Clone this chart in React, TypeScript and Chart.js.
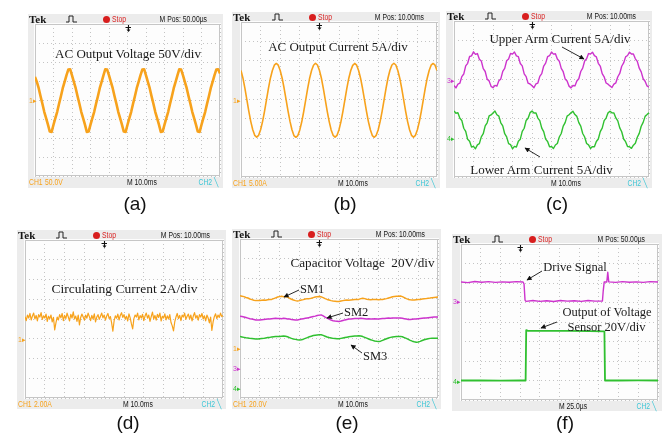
import React, { useEffect, useRef } from 'react';
import { Chart, registerables } from 'chart.js';

Chart.register(...registerables);

// ---------------- colours ----------------
const ORANGE = '#f7a21c';
const MAGENTA = '#cd34cd';
const GREEN = '#30c030';
const CYAN = '#3cc6d6';
const RED = '#d81e1e';
const GRID = '#c4c4c4';
const FRAME = '#c6c6c6';
const SANS = '"Liberation Sans", Arial, sans-serif';
const SERIF = '"Liberation Serif", "Times New Roman", serif';

// ---------------- data (vertical divisions, sampled every SAMPLE_STEP horizontal divisions) ----------------
const SAMPLE_STEP = 0.1;
const NOISE_STEP = 0.0625;

// (a) AC output voltage, multilevel waveform
const A_VOLTAGE = [
  1.22, 0.95, 0.62, 0.2, -0.2, -0.62, -0.95, -1.3, -1.66, -1.68,
  -1.3, -0.95, -0.62, -0.2, 0.2, 0.62, 0.95, 1.3, 1.6, 1.62,
  1.3, 0.95, 0.62, 0.2, -0.2, -0.62, -0.95, -1.3, -1.68, -1.66,
  -1.3, -0.95, -0.62, -0.2, 0.2, 0.62, 0.95, 1.3, 1.62, 1.6,
  1.3, 0.95, 0.62, 0.2, -0.2, -0.62, -0.95, -1.3, -1.66, -1.68,
  -1.3, -0.95, -0.62, -0.2, 0.2, 0.62, 0.95, 1.3, 1.6, 1.62,
  1.3, 0.95, 0.62, 0.2, -0.2, -0.62, -0.95, -1.3, -1.68, -1.66,
  -1.3, -0.95, -0.62, -0.2, 0.2, 0.62, 0.95, 1.3, 1.62, 1.6,
  1.3, 0.95, 0.62, 0.2, -0.2, -0.62, -0.95, -1.3, -1.66, -1.68,
  -1.3, -0.95, -0.62, -0.2, 0.2, 0.62, 0.95, 1.3, 1.6, 1.62,
  1.4,
];

// (b) AC output current
const B_CURRENT = [
  1.5, 1.1, 0.57, -0.02, -0.61, -1.14, -1.56, -1.85, -1.94, -1.85,
  -1.56, -1.14, -0.61, -0.02, 0.57, 1.1, 1.5, 1.77, 1.86, 1.77,
  1.5, 1.1, 0.58, -0.01, -0.6, -1.13, -1.56, -1.86, -1.95, -1.86,
  -1.57, -1.15, -0.62, -0.03, 0.56, 1.09, 1.5, 1.77, 1.87, 1.78,
  1.51, 1.11, 0.57, -0.02, -0.61, -1.14, -1.57, -1.85, -1.94, -1.85,
  -1.56, -1.14, -0.61, -0.02, 0.57, 1.1, 1.5, 1.76, 1.86, 1.77,
  1.5, 1.1, 0.58, -0.01, -0.6, -1.14, -1.56, -1.86, -1.95, -1.85,
  -1.56, -1.13, -0.61, -0.02, 0.58, 1.11, 1.51, 1.78, 1.87, 1.78,
  1.5, 1.1, 0.57, -0.02, -0.61, -1.14, -1.56, -1.85, -1.94, -1.85,
  -1.56, -1.14, -0.61, -0.02, 0.57, 1.1, 1.5, 1.77, 1.86, 1.77,
  1.5,
];

// (c) upper / lower arm currents
const C_UPPER = [
  0.69, 0.57, 0.76, 0.81, 1.15, 1.28, 1.7, 1.83, 2.18, 2.21,
  2.42, 2.29, 2.33, 2.04, 1.95, 1.56, 1.41, 1.02, 0.93, 0.65,
  0.58, 0.7, 0.66, 0.93, 1.03, 1.42, 1.57, 1.96, 2.05, 2.34,
  2.3, 2.41, 2.21, 2.17, 1.82, 1.7, 1.29, 1.15, 0.81, 0.77,
  0.68, 0.58, 0.77, 0.82, 1.16, 1.3, 1.69, 1.84, 2.17, 2.22,
  2.41, 2.3, 2.32, 2.05, 1.94, 1.57, 1.4, 1.03, 0.92, 0.66,
  0.57, 0.69, 0.67, 0.92, 1.04, 1.41, 1.58, 1.95, 2.06, 2.33,
  2.31, 2.4, 2.22, 2.16, 1.83, 1.69, 1.3, 1.14, 0.82, 0.76,
  0.67, 0.59, 0.76, 0.83, 1.14, 1.31, 1.68, 1.85, 2.16, 2.23,
  2.4, 2.31, 2.31, 2.06, 1.93, 1.58, 1.39, 1.04, 0.91, 0.67,
  0.6,
];
const C_LOWER = [
  -0.61, -0.73, -0.7, -0.99, -1.1, -1.5, -1.66, -2.07, -2.17, -2.46,
  -2.43, -2.55, -2.35, -2.29, -1.94, -1.78, -1.38, -1.22, -0.87, -0.82,
  -0.72, -0.62, -0.81, -0.88, -1.22, -1.38, -1.78, -1.94, -2.29, -2.34,
  -2.55, -2.43, -2.46, -2.17, -2.06, -1.66, -1.5, -1.1, -0.99, -0.7,
  -0.62, -0.72, -0.71, -0.98, -1.11, -1.49, -1.67, -2.06, -2.18, -2.45,
  -2.44, -2.54, -2.36, -2.28, -1.95, -1.77, -1.39, -1.21, -0.88, -0.81,
  -0.71, -0.63, -0.8, -0.89, -1.21, -1.39, -1.77, -1.95, -2.28, -2.35,
  -2.54, -2.44, -2.45, -2.18, -2.05, -1.67, -1.49, -1.11, -0.98, -0.71,
  -0.63, -0.71, -0.72, -0.97, -1.12, -1.48, -1.68, -2.05, -2.19, -2.44,
  -2.45, -2.53, -2.37, -2.27, -1.96, -1.76, -1.4, -1.2, -0.89, -0.8,
  -0.7,
];

// (d) circulating current (sampled every NOISE_STEP divisions)
const D_CIRCULATING = [
  0.12, -0.08, 0.2, 0.05, 0.28, -0.05, 0.15, 0.3, 0.0, 0.18, -0.1, 0.22, 0.1, 0.32, -0.02, 0.16,
  0.05, 0.25, -0.12, 0.14, 0.02, 0.2, -0.15, 0.08, -0.55, -0.2, 0.1, -0.05, 0.22, 0.06, 0.28, -0.08,
  0.18, 0.02, 0.3, 0.1, -0.1, 0.24, 0.05, 0.36, 0.0, 0.15, -0.12, 0.2, -0.3, 0.08, 0.25, 0.1,
  -0.05, 0.2, 0.04, 0.3, 0.12, -0.08, 0.18, 0.0, 0.26, -0.15, 0.1, 0.22, -0.02, 0.14, 0.3, 0.06,
  0.2, -0.06, 0.15, 0.28, 0.02, 0.12, -0.2, -0.62, -0.1, 0.16, 0.04, 0.25, -0.05, 0.18, 0.32, 0.08,
  0.22, 0.0, 0.14, -0.1, 0.26, 0.06, -0.25, -0.5, 0.02, 0.2, 0.1, 0.3, -0.04, 0.17, 0.05, 0.24,
  -0.08, 0.15, 0.3, 0.04, 0.2, -0.12, 0.12, 0.35, 0.0, 0.18, -0.06, 0.24, 0.08, 0.3, -0.1, 0.14,
  0.05, 0.26, -0.04, 0.16, 0.0, 0.22, -0.18, -0.35, -0.6, -0.15, 0.1, 0.28, 0.02, 0.18, -0.08, 0.2,
  0.1, 0.3, -0.02, 0.14, 0.25, 0.0, 0.2, -0.1, 0.15, 0.32, 0.04, 0.18, -0.06, 0.22, 0.1, 0.28,
  0.0, 0.16, -0.1, 0.2, 0.05, -0.2, 0.1, -0.58, -0.15, 0.12, 0.26, 0.02, 0.2, 0.08, 0.3, 0.12,
  0.18,
];

// (e) capacitor voltages SM1..SM3
const E_SM1 = [
  1.14, 1.12, 1.1, 1.06, 1.03, 0.98, 0.95, 0.92, 0.9, 0.9,
  0.91, 0.92, 0.93, 0.92, 0.94, 0.95, 0.96, 1.0, 1.04, 1.08,
  1.1, 1.12, 1.1, 1.11, 1.08, 1.02, 0.97, 0.93, 0.9, 0.88,
  0.9, 0.93, 0.95, 0.98, 1.0, 1.0, 1.02, 1.05, 1.08, 1.1,
  1.11, 1.09, 1.05, 1.0, 0.96, 0.93, 0.9, 0.88, 0.87, 0.86,
  0.86, 0.88, 0.9, 0.92, 0.93, 0.92, 0.93, 0.94, 0.95, 0.95,
  0.96, 1.0, 1.02, 1.0, 0.97, 0.95, 0.94, 0.95, 0.96, 0.95,
  0.94, 0.95, 0.96, 0.98, 1.0, 1.03, 1.06, 1.09, 1.11, 1.12,
  1.12, 1.13, 1.1, 1.05, 1.0, 0.96, 0.94, 0.93, 0.93, 0.94,
  0.95, 0.96, 0.98, 0.99, 1.0, 1.02, 1.03, 1.05, 1.06, 1.07,
  1.08,
];
const E_SM2 = [
  0.12, 0.1, 0.08, 0.05, 0.02, -0.01, -0.03, -0.05, -0.07, -0.08,
  -0.07, -0.06, -0.05, -0.04, -0.03, -0.02, -0.01, 0.0, 0.01, 0.0,
  0.0, -0.01, 0.01, 0.0, -0.02, -0.03, -0.05, -0.06, -0.07, -0.07,
  -0.05, -0.03, -0.01, 0.01, 0.03, 0.05, 0.08, 0.1, 0.12, 0.15,
  0.17, 0.18, 0.13, 0.07, 0.02, -0.03, -0.08, -0.11, -0.13, -0.14,
  -0.15, -0.13, -0.1, -0.07, -0.05, -0.03, -0.02, -0.01, 0.0, 0.0,
  0.0, 0.01, 0.0, -0.01, -0.02, -0.01, -0.02, -0.02, -0.01, -0.02,
  -0.02, -0.01, 0.0, 0.0, 0.01, 0.02, 0.01, 0.02, 0.02, 0.03,
  0.02, 0.02, 0.01, -0.01, -0.03, -0.05, -0.05, -0.04, -0.03, -0.02,
  -0.01, 0.0, 0.01, 0.02, 0.03, 0.04, 0.05, 0.06, 0.07, 0.07,
  0.08,
];
const E_SM3 = [
  -0.91, -0.93, -0.95, -0.97, -0.98, -1.0, -1.01, -1.02, -1.03, -1.03,
  -1.02, -1.01, -1.0, -0.98, -0.96, -0.95, -0.93, -0.92, -0.91, -0.9,
  -0.9, -0.89, -0.88, -0.89, -0.92, -0.96, -1.0, -1.03, -1.05, -1.07,
  -1.08, -1.07, -1.04, -1.0, -0.96, -0.92, -0.89, -0.86, -0.84, -0.83,
  -0.82, -0.82, -0.85, -0.89, -0.93, -0.96, -0.98, -1.0, -1.01, -1.02,
  -1.02, -1.0, -0.98, -0.96, -0.94, -0.92, -0.9, -0.89, -0.88, -0.88,
  -0.87, -0.88, -0.91, -0.95, -0.99, -1.03, -1.07, -1.1, -1.13, -1.15,
  -1.16, -1.14, -1.1, -1.06, -1.02, -0.98, -0.95, -0.93, -0.92, -0.91,
  -0.91, -0.9, -0.92, -0.96, -1.0, -1.05, -1.1, -1.14, -1.17, -1.19,
  -1.18, -1.15, -1.11, -1.07, -1.04, -1.02, -1.0, -0.99, -0.99, -0.99,
  -0.99,
];

// (f) drive signal and voltage-sensor output (time in divisions, level in divisions)
const F_DRIVE_T = [0, 0.35, 0.7, 1.05, 1.4, 1.75, 2.1, 2.45, 2.8, 3.15, 3.2, 3.25, 3.3, 3.65, 4.0, 4.35, 4.7, 5.05, 5.4, 5.75, 6.1, 6.45, 6.8, 7.18, 7.22, 7.27, 7.4, 7.45, 7.5, 7.85, 8.2, 8.55, 8.9, 9.25, 9.6, 10];
const F_DRIVE = [2.05, 2.02, 2.08, 2.04, 2.07, 2.03, 2.06, 2.04, 2.07, 2.05, 1.95, 1.12, 1.06, 1.1, 1.06, 1.09, 1.05, 1.1, 1.07, 1.09, 1.06, 1.1, 1.07, 1.08, 1.6, 2.06, 2.05, 2.55, 2.06, 2.03, 2.07, 2.04, 2.06, 2.03, 2.07, 2.05];
const F_SENSOR_T = [0, 1, 2, 3, 3.28, 3.31, 3.4, 4.5, 5.5, 6.5, 7.28, 7.31, 8, 9, 10];
const F_SENSOR = [-3, -2.99, -3.01, -3, -3, -0.42, -0.45, -0.46, -0.46, -0.47, -0.48, -3, -3, -2.99, -3];

// ---------------- helpers ----------------
type Rect = { l: number; t: number; r: number; b: number };

function series(ys: number[], color: string, width: number, step: number, xs?: number[], extra: any = {}) {
  return {
    data: ys.map((y, i) => ({ x: xs ? xs[i] : i * step, y })),
    borderColor: color,
    backgroundColor: color,
    borderWidth: width,
    pointRadius: 0,
    tension: 0,
    fill: false,
    borderJoinStyle: 'round',
    ...extra,
  };
}

const framePlugin = {
  id: 'scopeFrame',
  beforeDatasetsDraw(chart: any) {
    const { ctx, chartArea: a } = chart;
    ctx.save();
    ctx.strokeStyle = FRAME;
    ctx.lineWidth = 1;
    ctx.strokeRect(Math.round(a.left) + 0.5, Math.round(a.top) + 0.5, Math.round(a.right - a.left) - 1, Math.round(a.bottom - a.top) - 1);
    ctx.restore();
  },
};

function ScopeCanvas({ g, datasets }: { g: Rect; datasets: any[] }) {
  const ref = useRef<HTMLCanvasElement | null>(null);
  useEffect(() => {
    if (!ref.current) return;
    const axis = (min: number, max: number) => ({
      type: 'linear' as const,
      min,
      max,
      ticks: { display: false, stepSize: 1 },
      grid: { color: GRID, lineWidth: 1, drawTicks: false },
      border: { display: false, dash: [1, 3] },
    });
    const chart = new Chart(ref.current, {
      type: 'line',
      data: { datasets },
      options: {
        responsive: false,
        maintainAspectRatio: false,
        animation: false,
        events: [],
        layout: { padding: 1 },
        plugins: { legend: { display: false }, tooltip: { enabled: false }, title: { display: false } },
        scales: { x: axis(0, 10), y: axis(-4, 4) },
      } as any,
      plugins: [framePlugin],
    });
    return () => chart.destroy();
  }, []);
  const w = g.r - g.l + 2;
  const h = g.b - g.t + 2;
  return (
    <canvas
      ref={ref}
      width={w}
      height={h}
      style={{ position: 'absolute', left: g.l - 1, top: g.t - 1, width: w, height: h, background: '#fdfdfd' }}
    />
  );
}

function Txt(props: { x: number; y: number; a?: 'l' | 'c' | 'r'; size: number; color?: string; family?: string; weight?: number; sx?: number; children: any }) {
  const { x, y, a = 'l', size, color = '#151515', family = SANS, weight = 400, sx = 1, children } = props;
  const tx = a === 'l' ? '0%' : a === 'c' ? '-50%' : '-100%';
  const origin = a === 'l' ? '0% 50%' : a === 'c' ? '50% 50%' : '100% 50%';
  return (
    <div
      style={{
        position: 'absolute',
        left: x,
        top: y,
        transform: `translate(${tx}, -50%) scaleX(${sx})`,
        transformOrigin: origin,
        font: `${weight} ${size}px ${family}`,
        color,
        whiteSpace: 'pre',
        lineHeight: 1,
      }}
    >
      {children}
    </div>
  );
}

type Marker = { t: string; v: number; c: string };
type PanelSpec = {
  box: Rect;
  g: Rect;
  pos: string;
  trigDiv: number;
  ch1?: string;
  time: string;
  label: string;
  labelX: number;
  labelY: number;
  markers: Marker[];
  datasets: any[];
  notes: { t: string; x: number; y: number; a: 'l' | 'c'; size: number }[];
};

const PANELS: PanelSpec[] = [
  {
    box: { l: 28, t: 14, r: 223, b: 188 },
    g: { l: 35, t: 24, r: 220, b: 176 },
    pos: 'M Pos: 50.00µs',
    trigDiv: 5,
    ch1: '50.0V',
    time: 'M 10.0ms',
    label: '(a)',
    labelX: 135,
    labelY: 203,
    markers: [{ t: '1▸', v: 0, c: ORANGE }],
    datasets: [series(A_VOLTAGE, ORANGE, 2.6, SAMPLE_STEP)],
    notes: [{ t: 'AC Output Voltage 50V/div', x: 128, y: 53, a: 'c', size: 13 }],
  },
  {
    box: { l: 232, t: 12, r: 440, b: 188 },
    g: { l: 241, t: 22, r: 437, b: 177 },
    pos: 'M Pos: 10.00ms',
    trigDiv: 4,
    ch1: '5.00A',
    time: 'M 10.0ms',
    label: '(b)',
    labelX: 345,
    labelY: 203,
    markers: [{ t: '1▸', v: 0, c: ORANGE }],
    datasets: [series(B_CURRENT, ORANGE, 1.6, SAMPLE_STEP)],
    notes: [{ t: 'AC Output Current 5A/div', x: 338, y: 46, a: 'c', size: 13 }],
  },
  {
    box: { l: 446, t: 11, r: 652, b: 188 },
    g: { l: 454, t: 21, r: 649, b: 177 },
    pos: 'M Pos: 10.00ms',
    trigDiv: 4,
    time: 'M 10.0ms',
    label: '(c)',
    labelX: 557,
    labelY: 203,
    markers: [
      { t: '3▸', v: 1, c: MAGENTA },
      { t: '4▸', v: -2, c: GREEN },
    ],
    datasets: [series(C_UPPER, MAGENTA, 1.4, SAMPLE_STEP), series(C_LOWER, GREEN, 1.4, SAMPLE_STEP)],
    notes: [
      { t: 'Upper Arm Current 5A/div', x: 560, y: 38, a: 'c', size: 13 },
      { t: 'Lower Arm Current 5A/div', x: 541.5, y: 168.5, a: 'c', size: 13 },
    ],
  },
  {
    box: { l: 17, t: 230, r: 226, b: 409 },
    g: { l: 25, t: 240, r: 223, b: 398 },
    pos: 'M Pos: 10.00ms',
    trigDiv: 4,
    ch1: '2.00A',
    time: 'M 10.0ms',
    label: '(d)',
    labelX: 128,
    labelY: 422,
    markers: [{ t: '1▸', v: -1, c: ORANGE }],
    datasets: [series(D_CIRCULATING, ORANGE, 1.2, NOISE_STEP)],
    notes: [{ t: 'Circulating Current 2A/div', x: 124.5, y: 288.5, a: 'c', size: 13.5 }],
  },
  {
    box: { l: 232, t: 229, r: 441, b: 409 },
    g: { l: 240, t: 239, r: 438, b: 398 },
    pos: 'M Pos: 10.00ms',
    trigDiv: 4,
    ch1: '20.0V',
    time: 'M 10.0ms',
    label: '(e)',
    labelX: 347,
    labelY: 422,
    markers: [
      { t: '1▸', v: -1.5, c: ORANGE },
      { t: '3▸', v: -2.5, c: MAGENTA },
      { t: '4▸', v: -3.5, c: GREEN },
    ],
    datasets: [
      series(E_SM1, ORANGE, 1.5, SAMPLE_STEP),
      series(E_SM2, MAGENTA, 1.5, SAMPLE_STEP),
      series(E_SM3, GREEN, 1.5, SAMPLE_STEP),
    ],
    notes: [
      { t: 'Capacitor Voltage  20V/div', x: 362.5, y: 263, a: 'c', size: 13.2 },
      { t: 'SM1', x: 300, y: 288.5, a: 'l', size: 12.5 },
      { t: 'SM2', x: 344, y: 311.5, a: 'l', size: 12.5 },
      { t: 'SM3', x: 363, y: 355.5, a: 'l', size: 12.5 },
    ],
  },
  {
    box: { l: 452, t: 234, r: 662, b: 411 },
    g: { l: 461, t: 244, r: 658, b: 400 },
    pos: 'M Pos: 50.00µs',
    trigDiv: 3,
    time: 'M 25.0µs',
    label: '(f)',
    labelX: 565,
    labelY: 422,
    markers: [
      { t: '3▸', v: 1.08, c: MAGENTA },
      { t: '4▸', v: -3, c: GREEN },
    ],
    datasets: [
      series(F_DRIVE, MAGENTA, 1.4, 0, F_DRIVE_T),
      series(F_SENSOR, GREEN, 1.8, 0, F_SENSOR_T),
    ],
    notes: [
      { t: 'Drive Signal', x: 575, y: 266.5, a: 'c', size: 12.5 },
      { t: 'Output of Voltage', x: 607, y: 311.5, a: 'c', size: 12.5 },
      { t: 'Sensor 20V/div', x: 606.5, y: 326.5, a: 'c', size: 12.5 },
    ],
  },
];

const ARROWS: [number, number, number, number][] = [
  [562, 47, 584, 59],
  [540, 157, 525, 148],
  [299, 290, 284, 297],
  [343, 313, 327, 318],
  [362, 353, 351, 345],
  [542, 271, 527, 280],
  [557, 322, 541, 328],
];

function Panel({ p }: { p: PanelSpec }) {
  const { box, g } = p;
  const hy = g.t - 5;
  const fy = g.b + 6;
  const divW = (g.r - g.l) / 10;
  const trigX = g.l + p.trigDiv * divW;
  const cx = (g.l + g.r) / 2;
  return (
    <>
      <div style={{ position: 'absolute', left: box.l, top: box.t, width: box.r - box.l, height: box.b - box.t, background: '#ececec' }} />
      <ScopeCanvas g={g} datasets={p.datasets} />
      {/* header */}
      <Txt x={box.l + 1} y={hy} size={11} weight={700} family={SERIF}>Tek</Txt>
      <svg style={{ position: 'absolute', left: g.l + 31, top: hy - 4 }} width={12} height={8}>
        <polyline points="0,7 3,7 3,1 7,1 7,7 11,7" fill="none" stroke="#222" strokeWidth={1} />
      </svg>
      <div style={{ position: 'absolute', left: g.l + 68, top: hy - 3.5, width: 7, height: 7, borderRadius: '50%', background: RED }} />
      <Txt x={g.l + 77} y={hy} size={8.5} color={RED} sx={0.8}>Stop</Txt>
      <Txt x={g.r - 13} y={hy} a="r" size={8.5} sx={0.8}>{p.pos}</Txt>
      <svg style={{ position: 'absolute', left: trigX - 3, top: g.t + 1 }} width={7} height={7}>
        <path d="M0.5,2.5 H6 M3.5,0 V5" stroke="#111" strokeWidth={1.1} fill="none" />
        <path d="M1.5,4.5 L5.5,4.5 L3.5,7 z" fill="#111" />
      </svg>
      {/* channel markers */}
      {p.markers.map((m, i) => (
        <Txt key={i} x={box.l + 1} y={g.t + ((4 - m.v) / 8) * (g.b - g.t)} size={7} color={m.c}>{m.t}</Txt>
      ))}
      {/* footer */}
      {p.ch1 ? (
        <>
          <Txt x={box.l + 1} y={fy} size={8.5} color={ORANGE} sx={0.8}>CH1</Txt>
          <Txt x={box.l + 17} y={fy} size={8.5} color={ORANGE} sx={0.8}>{p.ch1}</Txt>
        </>
      ) : null}
      <Txt x={cx - 1} y={fy} size={8.5} sx={0.8}>{p.time}</Txt>
      <Txt x={g.r - 2} y={fy} a="r" size={8.5} color={CYAN} sx={0.8}>{'CH2 \u2572'}</Txt>
      {/* annotations */}
      {p.notes.map((n, i) => (
        <Txt key={'n' + i} x={n.x} y={n.y} a={n.a} size={n.size} family={SERIF} color="#1a1a1a">{n.t}</Txt>
      ))}
      <Txt x={p.labelX} y={p.labelY} a="c" size={19} color="#111">{p.label}</Txt>
    </>
  );
}

export default function App() {
  return (
    <div style={{ position: 'fixed', left: 0, top: 0, width: 664, height: 436, background: '#ffffff', overflow: 'hidden' }}>
      {PANELS.map((p, i) => (
        <Panel key={i} p={p} />
      ))}
      <svg width={664} height={436} style={{ position: 'absolute', left: 0, top: 0, pointerEvents: 'none' }}>
        <defs>
          <marker id="ah" viewBox="0 0 10 10" refX="9" refY="5" markerWidth="6" markerHeight="5" markerUnits="userSpaceOnUse" orient="auto">
            <path d="M0,0 L10,5 L0,10 z" fill="#111" />
          </marker>
        </defs>
        {ARROWS.map((a, i) => (
          <line key={i} x1={a[0]} y1={a[1]} x2={a[2]} y2={a[3]} stroke="#111" strokeWidth={0.9} markerEnd="url(#ah)" />
        ))}
      </svg>
    </div>
  );
}
